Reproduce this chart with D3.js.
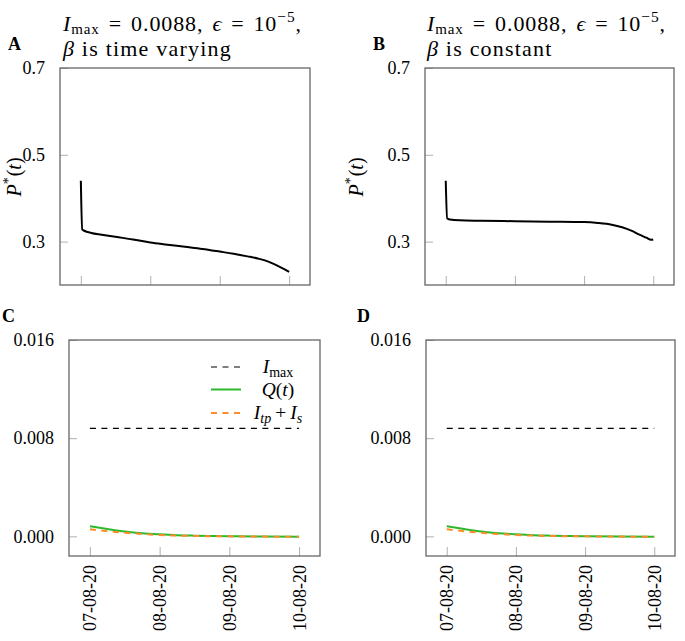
<!DOCTYPE html>
<html>
<head>
<meta charset="utf-8">
<script src="https://cdn.jsdelivr.net/npm/d3@7"></script>
<style>
  html, body { margin: 0; padding: 0; background: #fff; }
  svg text { font-family: "Liberation Serif", "DejaVu Serif", serif; }
</style>
</head>
<body>
<svg id="chart" width="685" height="641"></svg>
<script>
// ---------- data ----------
const dateLabels = ["07-08-20", "08-08-20", "09-08-20", "10-08-20"];
const dateTicks = [0, 1, 2, 3];

const pTicks = [0.3, 0.5, 0.7];
const qTicks = [0.000, 0.008, 0.016];

// Panel A: P*(t), beta time varying
const tA = [0, 0.02, 0.05, 0.15, 0.3, 0.5, 0.75, 1.0, 1.25, 1.5, 1.75, 2.0, 2.2, 2.4, 2.55, 2.7, 2.8, 2.9, 3.0];
const pA = [0.44, 0.328, 0.325, 0.320, 0.316, 0.311, 0.305, 0.298, 0.293, 0.288, 0.283, 0.277, 0.272, 0.266, 0.261, 0.254, 0.247, 0.239, 0.230];

// Panel B: P*(t), beta constant
const tB = [0, 0.02, 0.06, 0.2, 0.5, 1.0, 1.5, 2.0, 2.2, 2.4, 2.55, 2.7, 2.8, 2.9, 2.97, 3.0];
const pB = [0.44, 0.354, 0.351, 0.349, 0.348, 0.347, 0.346, 0.345, 0.343, 0.339, 0.333, 0.324, 0.316, 0.309, 0.304, 0.305];

// Panels C/D: Q(t), I_tp + I_s, I_max
const Imax = 0.0088;
const tQ = [0, 0.25, 0.5, 0.75, 1.0, 1.25, 1.5, 2.0, 2.5, 3.0];
const qC = [0.00082, 0.00060, 0.00040, 0.00026, 0.00017, 0.00010, 0.00006, 0.00001, -0.00002, -0.00003];
const iC = [0.00057, 0.00042, 0.00029, 0.00019, 0.00011, 0.00006, 0.00003, 0.00000, -0.00002, -0.00003];
const qD = [0.00082, 0.00060, 0.00040, 0.00026, 0.00017, 0.00010, 0.00006, 0.00001, -0.00002, -0.00003];
const iD = [0.00057, 0.00042, 0.00029, 0.00019, 0.00011, 0.00006, 0.00003, 0.00000, -0.00002, -0.00003];

// ---------- drawing ----------
const svg = d3.select("#chart");
const SERIF = "Liberation Serif, DejaVu Serif, serif";
const FS = 18;
const frameColor = "#666";
const tickColor = "#b0b0b0";
const green = "#2db82d";
const orange = "#ff8c26";

function panel(opts) {
  const {left, right, top, bottom, yDomain, yTicks, yFmt, letter, letterX, letterY} = opts;
  const x = d3.scaleLinear().domain([-0.3, 3.3]).range([left, right]);
  const y = d3.scaleLinear().domain(yDomain).range([bottom, top]);
  const g = svg.append("g");

  const yAxis = d3.axisLeft(y).tickValues(yTicks).tickFormat(yFmt).tickSizeInner(-8).tickSizeOuter(0).tickPadding(15);
  const ya = g.append("g").attr("transform", `translate(${left},0)`).call(yAxis).attr("font-family", SERIF);
  ya.select(".domain").remove();
  ya.selectAll("line").attr("stroke", tickColor);
  ya.selectAll("text").attr("font-size", FS).attr("fill", "#000");

  const xAxis = d3.axisBottom(x).tickValues(dateTicks).tickFormat(d => dateLabels[d]).tickSizeInner(-9).tickSizeOuter(0).tickPadding(0);
  const xa = g.append("g").attr("transform", `translate(0,${bottom})`).call(xAxis).attr("font-family", SERIF);
  xa.select(".domain").remove();
  xa.selectAll("line").attr("stroke", tickColor);
  if (opts.showDates) {
    xa.selectAll("text")
      .attr("font-size", FS).attr("fill", "#000")
      .attr("transform", "rotate(-90)")
      .attr("text-anchor", "end")
      .attr("x", -9).attr("y", 0).attr("dy", "0.33em");
  } else {
    xa.selectAll("text").remove();
  }

  g.append("rect").attr("x", left).attr("y", top).attr("width", right - left).attr("height", bottom - top)
    .attr("fill", "none").attr("stroke", frameColor).attr("stroke-width", 1.3);

  svg.append("text").attr("x", letterX).attr("y", letterY).attr("font-weight", "bold")
    .attr("font-size", 18).text(letter);

  return {x, y, g};
}

function pLabel(cx, cy) {
  const t = svg.append("text").attr("transform", `translate(${cx},${cy}) rotate(-90)`)
    .attr("text-anchor", "middle").attr("dy", "0.35em").attr("font-size", 20);
  t.append("tspan").attr("font-style", "italic").text("P");
  t.append("tspan").attr("font-size", 14).attr("dy", -8).text("*");
  t.append("tspan").attr("dy", 8).attr("dx", 1).text("(");
  t.append("tspan").attr("font-style", "italic").text("t");
  t.append("tspan").text(")");
}

function title(x0, line2) {
  const t = svg.append("text").attr("x", x0).attr("y", 31).attr("font-size", 22).attr("letter-spacing", 0.9);
  t.append("tspan").attr("font-style", "italic").text("I");
  t.append("tspan").attr("font-size", 15).attr("dy", 3).text("max");
  t.append("tspan").attr("dy", -3).attr("dx", 9).text("=");
  t.append("tspan").attr("dx", 9).text("0.0088,");
  t.append("tspan").attr("dx", 9).attr("font-style", "italic").text("ϵ");
  t.append("tspan").attr("dx", 9).text("=");
  t.append("tspan").attr("dx", 9).text("10");
  t.append("tspan").attr("font-size", 15.5).attr("dy", -9).text("−5");
  t.append("tspan").attr("dy", 9).text(",");
  const t2 = svg.append("text").attr("x", x0).attr("y", 56).attr("font-size", 22).attr("letter-spacing", 1.2);
  t2.append("tspan").attr("font-style", "italic").text("β");
  t2.append("tspan").text(" " + line2);
}

const pFmt = d3.format(".1f");
const qFmt = d3.format(".3f");

const A = panel({left: 60, right: 310, top: 68, bottom: 285, yDomain: [0.2, 0.7], yTicks: pTicks, yFmt: pFmt,
  letter: "A", letterX: 8, letterY: 50, showDates: false});
const B = panel({left: 425, right: 674, top: 68, bottom: 285, yDomain: [0.2, 0.7], yTicks: pTicks, yFmt: pFmt,
  letter: "B", letterX: 373, letterY: 50, showDates: false});
const C = panel({left: 69, right: 320, top: 340, bottom: 556, yDomain: [-0.0016, 0.016], yTicks: qTicks, yFmt: qFmt,
  letter: "C", letterX: 2, letterY: 322, showDates: true});
const D = panel({left: 426, right: 675, top: 340, bottom: 556, yDomain: [-0.0016, 0.016], yTicks: qTicks, yFmt: qFmt,
  letter: "D", letterX: 357, letterY: 322, showDates: true});

title(63, "is time varying");
title(427, "is constant");
pLabel(14, 177);
pLabel(356, 177);

function drawLine(P, xs, ys, color, width, dash) {
  const line = d3.line().x((d, i) => P.x(xs[i])).y(d => P.y(d)).curve(d3.curveMonotoneX);
  P.g.append("path").datum(ys).attr("d", line).attr("fill", "none")
    .attr("stroke", color).attr("stroke-width", width)
    .attr("stroke-dasharray", dash || null).attr("stroke-linejoin", "round");
}

drawLine(A, tA, pA, "#000", 2);
drawLine(B, tB, pB, "#000", 2);

[[C, qC, iC], [D, qD, iD]].forEach(([P, q, ii]) => {
  P.g.append("line").attr("x1", P.x(0)).attr("x2", P.x(3)).attr("y1", P.y(Imax)).attr("y2", P.y(Imax))
    .attr("stroke", "#000").attr("stroke-width", 1.1).attr("stroke-dasharray", "6,5.5");
  drawLine(P, tQ, q, green, 2);
  drawLine(P, tQ, ii, orange, 2, "6,5.5");
});

const legend = [
  {color: "#000", width: 1.1, dash: "6,5.5", y: 367, label: "imax"},
  {color: green, width: 2, dash: null, y: 389.5, label: "q"},
  {color: orange, width: 2, dash: "6,5.5", y: 413, label: "itp"}
];
legend.forEach(l => {
  svg.append("line").attr("x1", 211).attr("x2", 241).attr("y1", l.y).attr("y2", l.y)
    .attr("stroke", l.color).attr("stroke-width", l.width).attr("stroke-dasharray", l.dash);
  const t = svg.append("text").attr("x", 278).attr("y", l.y).attr("dy", "0.32em")
    .attr("text-anchor", "middle").attr("font-size", 19.5);
  if (l.label === "imax") {
    t.append("tspan").attr("font-style", "italic").text("I");
    t.append("tspan").attr("font-size", 14).attr("dy", 4).text("max");
  } else if (l.label === "q") {
    t.append("tspan").attr("font-style", "italic").text("Q");
    t.append("tspan").text("(");
    t.append("tspan").attr("font-style", "italic").text("t");
    t.append("tspan").text(")");
  } else {
    t.append("tspan").attr("font-style", "italic").text("I");
    t.append("tspan").attr("font-style", "italic").attr("font-size", 14).attr("dy", 4).text("tp");
    t.append("tspan").attr("dy", -4).attr("dx", 4).text("+");
    t.append("tspan").attr("dx", 4).attr("font-style", "italic").text("I");
    t.append("tspan").attr("font-style", "italic").attr("font-size", 14).attr("dy", 4).text("s");
  }
});
</script>
</body>
</html>
